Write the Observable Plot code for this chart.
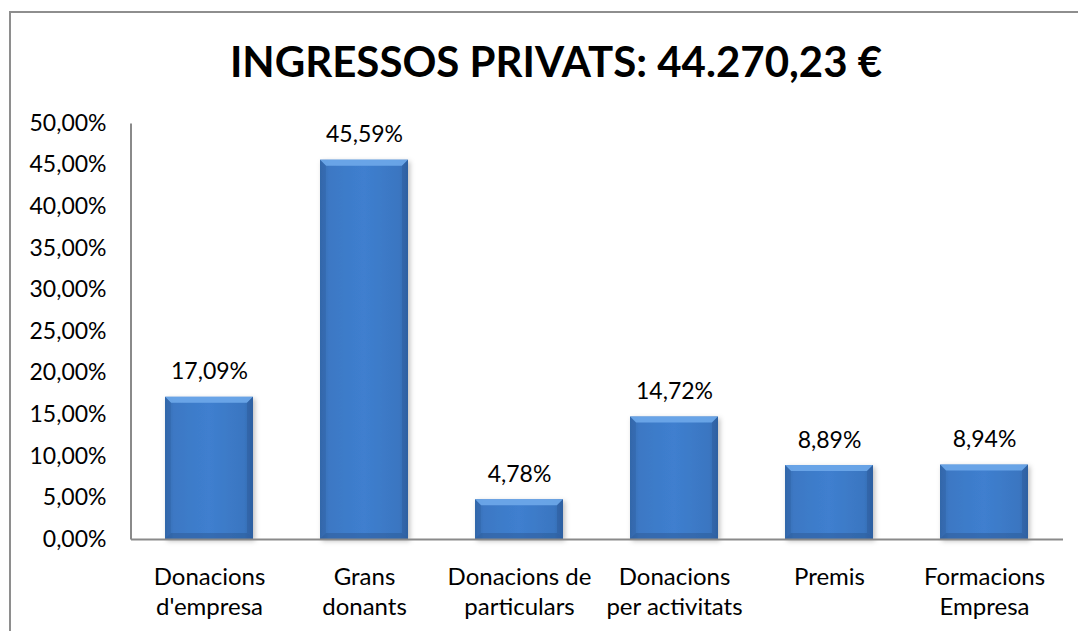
<!DOCTYPE html>
<html>
<head>
<meta charset="utf-8">
<script src="https://cdn.jsdelivr.net/npm/d3@7"></script>
<script src="https://cdn.jsdelivr.net/npm/@observablehq/plot@0.6"></script>
<style>
  html, body { margin: 0; padding: 0; background: #fff; overflow: hidden; }
  body { width: 1078px; height: 631px; position: relative; font-family: Lato, "Open Sans", sans-serif; }
  #frame { position: absolute; left: 9px; top: 11px; width: 1100px; height: 700px; border: 2px solid #8e8e8e; box-sizing: border-box; }
  #title { position: absolute; left: 0; width: 1112px; top: 36px; text-align: center; font-weight: 700; font-size: 42px; color: #000; line-height: 50px; }
  #chart { position: absolute; left: 0; top: 100px; }
</style>
</head>
<body>
<div id="frame"></div>
<div id="title">INGRESSOS PRIVATS: 44.270,23 €</div>
<div id="chart"></div>
<script>
const categories = ["Donacions d'empresa", "Grans donants", "Donacions de particulars", "Donacions per activitats", "Premis", "Formacions Empresa"];
const categoryLabels = ["Donacions\nd'empresa", "Grans\ndonants", "Donacions de\nparticulars", "Donacions\nper activitats", "Premis", "Formacions\nEmpresa"];
const values = [17.09, 45.59, 4.78, 14.72, 8.89, 8.94];
const valueLabels = ["17,09%", "45,59%", "4,78%", "14,72%", "8,89%", "8,94%"];
const yTicks = [0, 5, 10, 15, 20, 25, 30, 35, 40, 45, 50];

const data = categories.map((c, i) => ({cat: c, label: categoryLabels[i], v: values[i], vl: valueLabels[i]}));
const labelOf = new Map(categories.map((c, i) => [c, categoryLabels[i]]));
const ns = "http://www.w3.org/2000/svg";

function bevelBars(index, scales, values, dims, context, next) {
  const g = next(index, scales, values, dims, context);
  const b = 6;
  g.setAttribute("filter", "url(#barShadow)");
  d3.select(g).selectAll("rect").each(function() {
    const r = d3.select(this);
    const x = +r.attr("x"), y = +r.attr("y"), w = +r.attr("width"), h = +r.attr("height");
    const parent = this.parentNode;
    const polys = [
      {pts: [[x, y], [x + w, y], [x + w - b, y + b], [x + b, y + b]], fill: "#6ea8ea", op: 0.9},
      {pts: [[x, y], [x + b, y + b], [x + b, y + h - b], [x, y + h]], fill: "#2f63a6", op: 0.4},
      {pts: [[x + w, y], [x + w - b, y + b], [x + w - b, y + h - b], [x + w, y + h]], fill: "#2a5a98", op: 0.45},
      {pts: [[x, y + h], [x + b, y + h - b], [x + w - b, y + h - b], [x + w, y + h]], fill: "#2a5690", op: 0.45}
    ];
    for (const p of polys) {
      const el = document.createElementNS(ns, "polygon");
      el.setAttribute("points", p.pts.map(q => q.join(",")).join(" "));
      el.setAttribute("fill", p.fill);
      el.setAttribute("fill-opacity", p.op);
      parent.appendChild(el);
    }
  });
  return g;
}

function withLeftAxisLine(index, scales, values, dims, context, next) {
  const g = next(index, scales, values, dims, context);
  const line = document.createElementNS(ns, "line");
  const x = dims.marginLeft;
  line.setAttribute("x1", x);
  line.setAttribute("x2", x);
  line.setAttribute("y1", scales.y(0));
  line.setAttribute("y2", scales.y(50));
  line.setAttribute("stroke", "#8a8a8a");
  line.setAttribute("stroke-width", 2);
  g.appendChild(line);
  return g;
}

const plot = Plot.plot({
  width: 1078,
  height: 531,
  marginTop: 23,
  marginBottom: 92,
  marginLeft: 131,
  marginRight: 15,
  style: {fontFamily: "Lato, 'Open Sans', sans-serif", fontSize: "23px", color: "#000", background: "transparent"},
  x: {domain: categories, paddingInner: 0.43, paddingOuter: 0.215, label: null},
  y: {domain: [0, 50], label: null},
  marks: [
    Plot.barY(data, {x: "cat", y: "v", fill: "url(#barGrad)", render: bevelBars}),
    Plot.ruleY([0], {stroke: "#8a8a8a", strokeWidth: 2, render: withLeftAxisLine}),
    Plot.axisY({ticks: yTicks, tickSize: 0, tickPadding: 25, fontSize: 23, tickFormat: d => d.toFixed(2).replace(".", ",") + "%"}),
    Plot.axisX({tickSize: 0, tickPadding: 24, fontSize: 24, lineHeight: 1.25, tickFormat: d => labelOf.get(d)}),
    Plot.text(data, {x: "cat", y: "v", text: "vl", lineAnchor: "bottom", dy: -18, fontSize: 23, fill: "#000"})
  ]
});

const defs = document.createElementNS(ns, "defs");
defs.innerHTML = `
  <linearGradient id="barGrad" x1="0" y1="0" x2="1" y2="0">
    <stop offset="0" stop-color="#3569ad"/>
    <stop offset="0.1" stop-color="#3c78c4"/>
    <stop offset="0.5" stop-color="#3f7fcf"/>
    <stop offset="0.9" stop-color="#3a76c1"/>
    <stop offset="1" stop-color="#3265a8"/>
  </linearGradient>
  <filter id="barShadow" x="-10%" y="-10%" width="125%" height="125%">
    <feDropShadow dx="2" dy="2" stdDeviation="2.5" flood-color="#000" flood-opacity="0.25"/>
  </filter>`;
plot.insertBefore(defs, plot.firstChild);
document.getElementById("chart").appendChild(plot);
</script>
</body>
</html>
